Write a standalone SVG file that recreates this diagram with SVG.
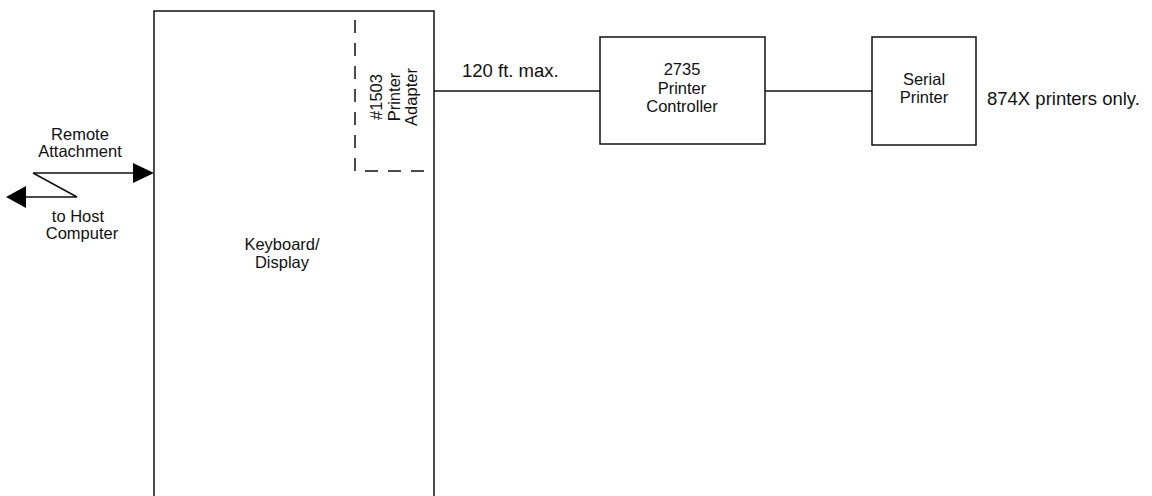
<svg xmlns="http://www.w3.org/2000/svg" width="1152" height="496" viewBox="0 0 1152 496">
<style>
.box{fill:none;stroke:#111;stroke-width:1.5}
.dash{fill:none;stroke:#111;stroke-width:1.5;stroke-dasharray:13 10}
.ln{fill:none;stroke:#111;stroke-width:1.5}
.ah{fill:#000}
text{font-family:"Liberation Sans",Arial,sans-serif;font-size:16.5px;fill:#111}
.c{text-anchor:middle}
.big{font-size:18.5px}
</style>
<rect width="1152" height="496" fill="#fff"/>
<g id="keyboard-display">
<path class="box" d="M154,510 V11 H434 V510"/>
<text class="c" x="282" y="250">Keyboard/</text>
<text class="c" x="282" y="268">Display</text>
</g>
<g id="printer-adapter">
<path class="dash" d="M355,20 V171 H434"/>
<g transform="translate(382,97) rotate(-90)">
<text class="c" x="0" y="0">#1503</text>
<text class="c" x="0" y="18">Printer</text>
<text class="c" x="0" y="35">Adapter</text>
</g>
</g>
<g id="printer-controller">
<rect class="box" x="600" y="37" width="165" height="107"/>
<text class="c" x="682" y="75">2735</text>
<text class="c" x="682" y="94">Printer</text>
<text class="c" x="682" y="112">Controller</text>
</g>
<g id="serial-printer">
<rect class="box" x="872" y="37" width="104" height="108"/>
<text class="c" x="924" y="85">Serial</text>
<text class="c" x="924" y="103">Printer</text>
</g>
<g id="connectors">
<path class="ln" d="M434,91 H600"/>
<path class="ln" d="M765,91 H872"/>
<path class="ln" d="M134,173 H33 L77,197 H24"/>
<polygon class="ah" points="154,173 133,163 133,183"/>
<polygon class="ah" points="6,197 26,186 26,208"/>
</g>
<g id="labels">
<text class="c" x="80" y="140">Remote</text>
<text class="c" x="80" y="157">Attachment</text>
<text class="c" x="78" y="222">to Host</text>
<text class="c" x="82" y="239">Computer</text>
<text class="big" x="462" y="77">120 ft. max.</text>
<text class="big" x="987" y="105">874X printers only.</text>
</g>
</svg>
